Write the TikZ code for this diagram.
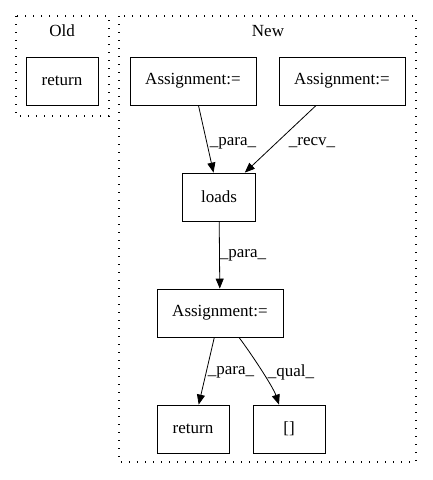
\documentclass[tikz,border=0pt]{standalone}
\usepackage{fontspec}
\setmainfont{Liberation Serif}
\usetikzlibrary{arrows.meta}

\begin{document}
\begin{tikzpicture}[x=1pt,y=-1pt,
  box/.style={draw,line width=0.8pt,minimum height=48pt,inner sep=0pt,font=\fontsize{17}{20}\selectfont},
  lbl/.style={font=\fontsize{17}{20}\selectfont,inner sep=0pt},
  cluster/.style={draw,line width=1.2pt,dash pattern=on 1.2pt off 6.8pt},
  >={Triangle[length=10pt,width=8pt]}]
\useasboundingbox (0,0) rectangle (432,480);
% clusters
\draw[cluster] (16,16) rectangle (109,116);
\node[lbl] (old) at (62,31) {Old};
\draw[cluster] (119,16) rectangle (416,462);
\node[lbl] (new) at (268,31) {New};
% nodes
\node[box,minimum width=72pt] (ret0) at (62,81) {return};
\node[box,minimum width=126pt] (asgA) at (193,81) {Assignment:=};
\node[box,minimum width=126pt] (asgB) at (342,81) {Assignment:=};
\node[box,minimum width=73pt] (loads) at (219,197) {loads};
\node[box,minimum width=126pt] (asgC) at (220,313) {Assignment:=};
\node[box,minimum width=72pt] (ret1) at (193,429) {return};
\node[box,minimum width=72pt] (brk) at (289,429) {[]};
% edges
\draw[->,line width=0.8pt] (asgA) -- (loads);
\node[lbl] (l1) at (233,143) {\_para\_};
\draw[->,line width=0.8pt] (asgB) -- (loads);
\node[lbl] (l2) at (312,143) {\_recv\_};
\draw[->,line width=0.8pt] (loads) -- (asgC);
\node[lbl] (l3) at (243,255) {\_para\_};
\draw[->,line width=0.8pt] (asgC) -- (ret1);
\node[lbl] (l4) at (231,372) {\_para\_};
\draw[->,line width=0.8pt] ([xshift=19pt]asgC.south) .. controls +(12,16) and +(-6,-18) .. ([xshift=-10pt]brk.north);
\node[lbl] (l5) at (291,372) {\_qual\_};
\end{tikzpicture}
\end{document}
